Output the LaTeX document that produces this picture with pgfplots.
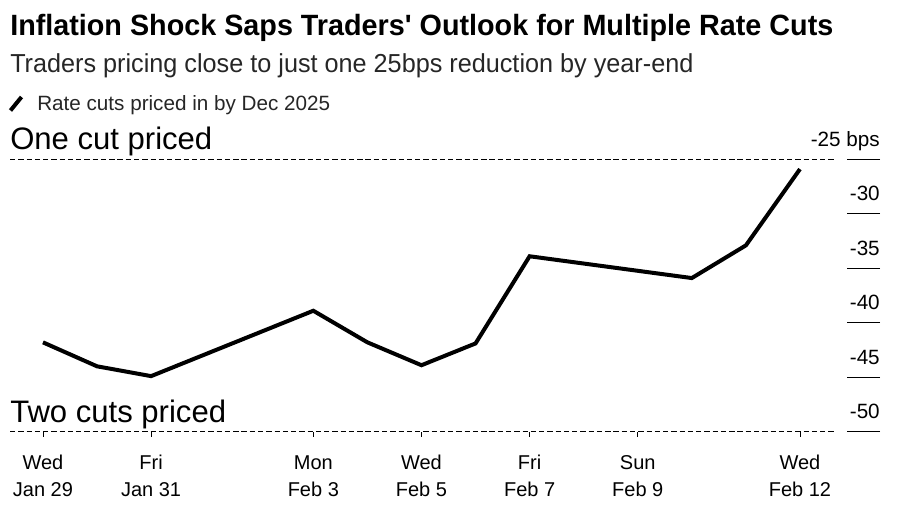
\documentclass[border=0pt]{standalone}
\usepackage{fontspec}
\setmainfont{Liberation Sans}
\newfontfamily\titlefont[FakeStretch=0.98]{Liberation Sans}
\newfontfamily\subfont[FakeStretch=0.97]{Liberation Sans}
\usepackage{pgfplots}
\pgfplotsset{compat=1.18}
\newcommand{\tl}[2]{\vphantom{Wgdy}#1\\\vphantom{Wgdy}#2}
\begin{document}
\begin{tikzpicture}[x=0.75pt,y=0.75pt]
\path[use as bounding box] (0,0) rectangle (900,510);
\node[anchor=base west, inner sep=0, font=\titlefont\bfseries\fontsize{22}{26}\selectfont] at (10,474) {Inflation Shock Saps Traders' Outlook for Multiple Rate Cuts};
\node[anchor=base west, inner sep=0, text=black!85, font=\subfont\fontsize{19.5}{23}\selectfont] at (10,437) {Traders pricing close to just one 25bps reduction by year-end};
\draw[line width=3pt] (10.5,399.5) -- (21.5,413);
\node[anchor=base west, inner sep=0, text=black!85, font=\fontsize{15.5}{18}\selectfont] at (37,399) {Rate cuts priced in by Dec 2025};
\node[anchor=base west, inner sep=0, font=\fontsize{23.3}{27}\selectfont] at (10,360) {One cut priced};
\node[anchor=base west, inner sep=0, font=\fontsize{23.3}{27}\selectfont] at (10,87) {Two cuts priced};
\begin{axis}[
  at={(7.5pt,58.725pt)}, anchor=south west,
  scale only axis, width=627.75pt, height=204.3pt,
  xmin=-0.61, xmax=14.87, ymin=-50, ymax=-25,
  axis line style={draw=none},
  clip=false,
  xtick={0,2,5,7,9,11,14},
  xticklabels={{\tl{Wed}{Jan 29}},{\tl{Fri}{Jan 31}},{\tl{Mon}{Feb 3}},{\tl{Wed}{Feb 5}},{\tl{Fri}{Feb 7}},{\tl{Sun}{Feb 9}},{\tl{Wed}{Feb 12}}},
  xticklabel style={align=center, font=\fontsize{15}{20.25}\selectfont, anchor=north, yshift=-10pt},
  ytick={-50,-45,-40,-35,-30,-25},
  yticklabels={},
  xtick pos=lower, ytick pos=right,
  tick align=outside,
  xtick style={black, line width=0.7pt, /pgfplots/major tick length=3.75pt},
  ytick style={black, line width=0.9pt, /pgfplots/major tick length=24.75pt},
]
\addplot[black, line width=1.1pt, dash pattern=on 4pt off 2.2pt] coordinates {(-0.61,-25) (14.65,-25)};
\addplot[black, line width=1.1pt, dash pattern=on 4pt off 2.2pt] coordinates {(-0.61,-50) (14.65,-50)};
\addplot[black, line width=3pt, line join=miter] coordinates {
(0,-41.8) (1,-44.0) (2,-44.9) (5,-38.9) (6,-41.8) (7,-43.9) (8,-41.9) (9,-33.9) (12,-35.9) (13,-32.9) (14,-25.9)};
\pgfplotsinvokeforeach{-30,-35,-40,-45,-50}{
  \node[anchor=base east, inner sep=0, font=\fontsize{15.5}{18}\selectfont] at (axis cs:14.87,#1) [xshift=24.75pt, yshift=9.75pt] {#1};
}
\node[anchor=base east, inner sep=0, font=\fontsize{15.5}{18}\selectfont] at (axis cs:14.87,-25) [xshift=24.75pt, yshift=9.75pt] {-25 bps};
\end{axis}
\end{tikzpicture}
\end{document}
